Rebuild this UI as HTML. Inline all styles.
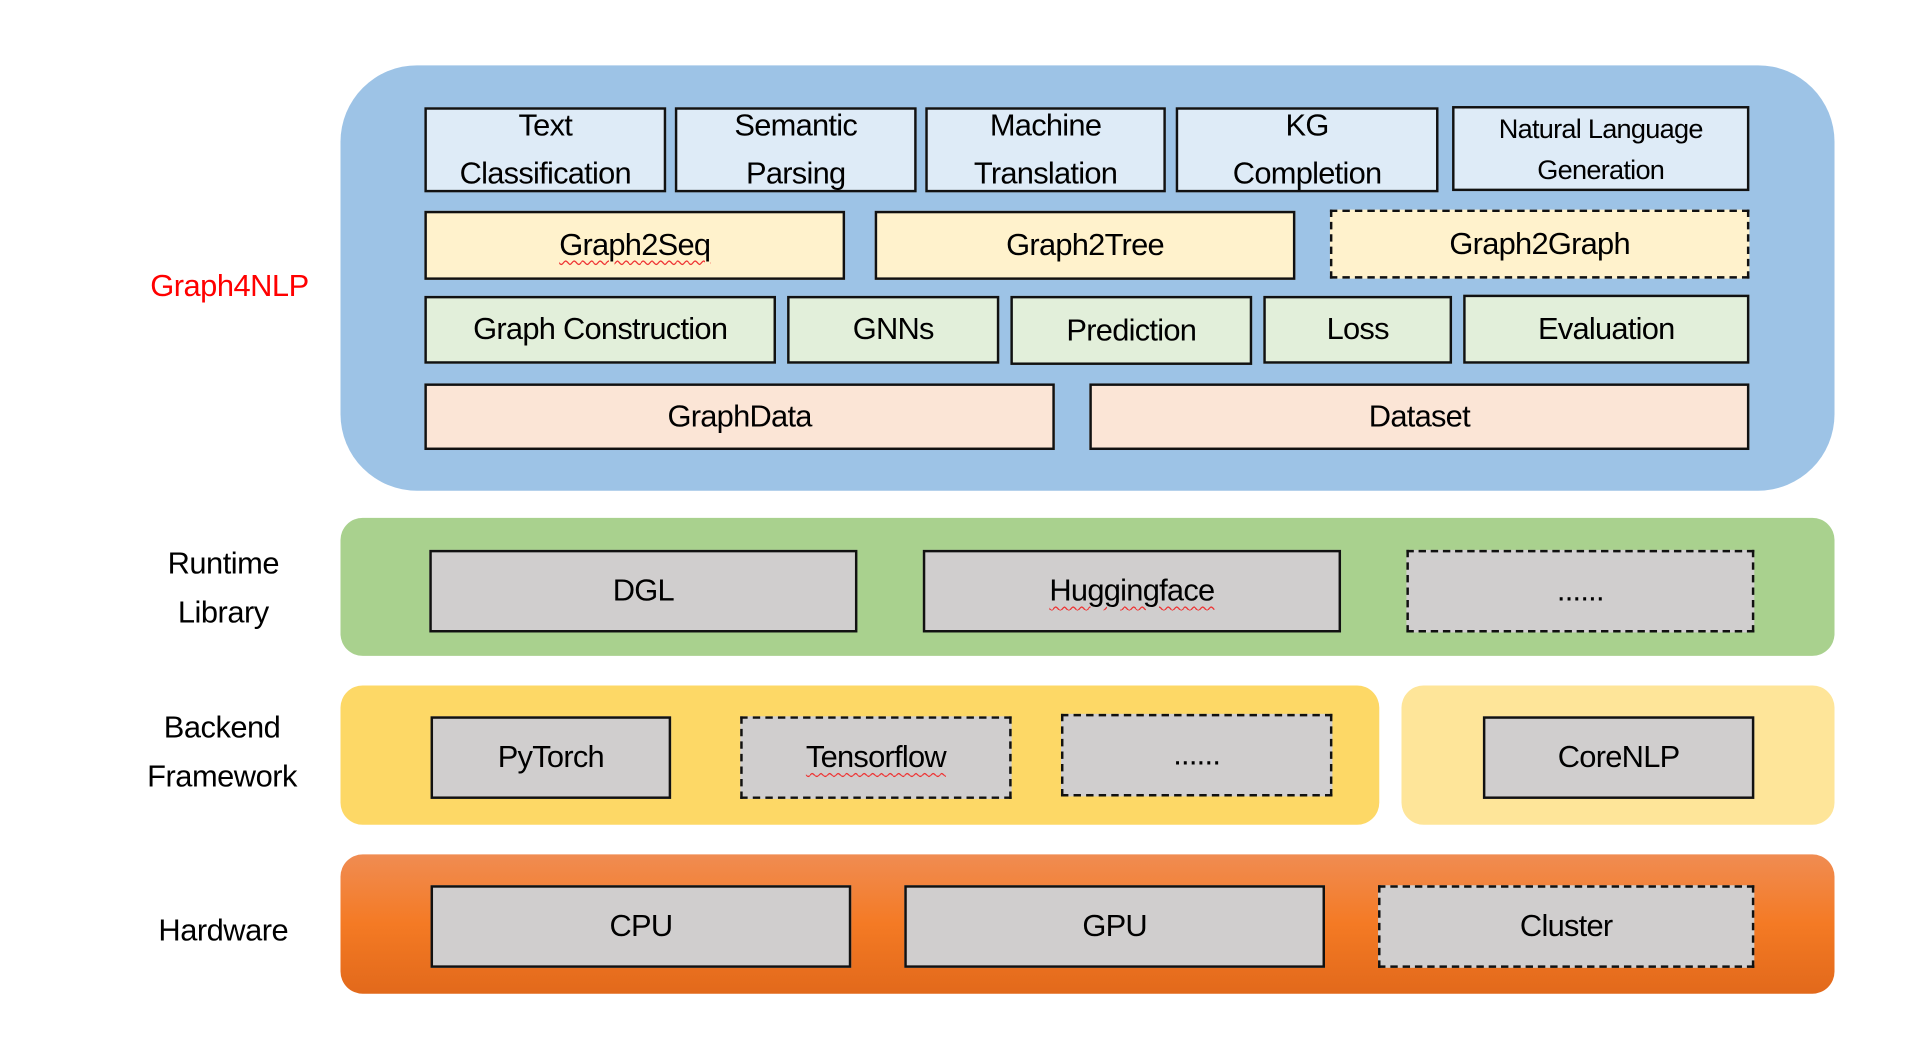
<!DOCTYPE html>
<html><head><meta charset="utf-8"><style>
html,body{margin:0;padding:0;background:#fff;width:1932px;height:1048px;overflow:hidden}
#c{position:absolute;left:0;top:0;width:1566px;height:850px;transform-origin:0 0;transform:scale(1.2337,1.2329);font-family:"Liberation Sans",sans-serif;color:#000}
.p{position:absolute}
.b{position:absolute;box-sizing:border-box;border:2px solid #111;display:flex;align-items:center;justify-content:center;text-align:center;font-size:25px;line-height:1.55;letter-spacing:-0.6px}
.d{border-style:dashed}
.blue{background:#deebf7}.yel{background:#fff2cc}.grn{background:#e2efda}.pk{background:#fbe5d6}.gr{background:#d0cece}
.l{position:absolute;text-align:center;font-size:25px;line-height:40px;width:200px;letter-spacing:-0.4px}
.u{text-decoration:underline wavy #e33;text-decoration-thickness:1px;text-underline-offset:4px}
</style></head><body><div id="c">
<div class="p" style="left:276px;top:53px;width:1211px;height:345px;background:#9dc3e6;border-radius:62px"></div>
<div class="p" style="left:276px;top:420px;width:1211px;height:112px;background:#a9d18e;border-radius:18px"></div>
<div class="p" style="left:276px;top:556px;width:842px;height:113px;background:#fdd866;border-radius:18px"></div>
<div class="p" style="left:1136px;top:556px;width:351px;height:113px;background:#fee599;border-radius:18px"></div>
<div class="p" style="left:276px;top:693px;width:1211px;height:113px;background:linear-gradient(#f08c52,#f47a24 50%,#e2691b);border-radius:18px"></div>

<div class="l" style="left:86px;top:212px;color:#f00">Graph4NLP</div>
<div class="l" style="left:81px;top:437px">Runtime<br>Library</div>
<div class="l" style="left:80px;top:570px">Backend<br>Framework</div>
<div class="l" style="left:81px;top:735px">Hardware</div>

<div class="b blue" style="left:344px;top:87px;width:196px;height:69px;line-height:39px">Text<br>Classification</div>
<div class="b blue" style="left:547px;top:87px;width:196px;height:69px;line-height:39px">Semantic<br>Parsing</div>
<div class="b blue" style="left:750px;top:87px;width:195px;height:69px;line-height:39px">Machine<br>Translation</div>
<div class="b blue" style="left:953px;top:87px;width:213px;height:69px;line-height:39px">KG<br>Completion</div>
<div class="b blue" style="left:1177px;top:86px;width:241px;height:69px;line-height:33px;font-size:22px">Natural Language<br>Generation</div>

<div class="b yel" style="left:344px;top:171px;width:341px;height:56px"><span class="u">Graph2Seq</span></div>
<div class="b yel" style="left:709px;top:171px;width:341px;height:56px">Graph2Tree</div>
<div class="b yel d" style="left:1078px;top:170px;width:340px;height:56px">Graph2Graph</div>

<div class="b grn" style="left:344px;top:240px;width:285px;height:55px">Graph Construction</div>
<div class="b grn" style="left:638px;top:240px;width:172px;height:55px">GNNs</div>
<div class="b grn" style="left:819px;top:240px;width:196px;height:56px">Prediction</div>
<div class="b grn" style="left:1024px;top:240px;width:153px;height:55px">Loss</div>
<div class="b grn" style="left:1186px;top:239px;width:232px;height:56px">Evaluation</div>

<div class="b pk" style="left:344px;top:311px;width:511px;height:54px">GraphData</div>
<div class="b pk" style="left:883px;top:311px;width:535px;height:54px">Dataset</div>

<div class="b gr" style="left:348px;top:446px;width:347px;height:67px">DGL</div>
<div class="b gr" style="left:748px;top:446px;width:339px;height:67px"><span class="u">Huggingface</span></div>
<div class="b gr d" style="left:1140px;top:446px;width:282px;height:67px">......</div>

<div class="b gr" style="left:349px;top:581px;width:195px;height:67px">PyTorch</div>
<div class="b gr d" style="left:600px;top:581px;width:220px;height:67px"><span class="u">Tensorflow</span></div>
<div class="b gr d" style="left:860px;top:579px;width:220px;height:67px">......</div>
<div class="b gr" style="left:1202px;top:581px;width:220px;height:67px">CoreNLP</div>

<div class="b gr" style="left:349px;top:718px;width:341px;height:67px">CPU</div>
<div class="b gr" style="left:733px;top:718px;width:341px;height:67px">GPU</div>
<div class="b gr d" style="left:1117px;top:718px;width:305px;height:67px">Cluster</div>
</div></body></html>
